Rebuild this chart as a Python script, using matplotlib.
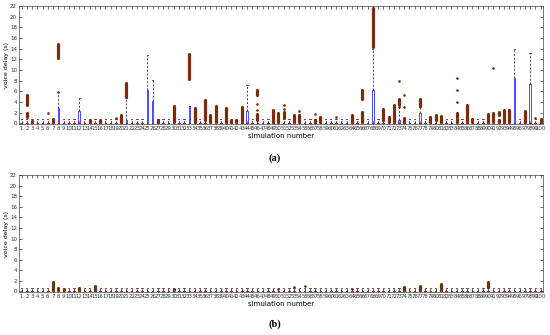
import numpy as np
import matplotlib.pyplot as plt

# ---------------- data ----------------
SIMS = list(range(1, 101))
Y_TICKS = list(range(0, 23, 2))

# panel (a): box top (q3) and upper whisker for the long boxes, default tiny
A_Q3 = {8: 2.8, 12: 2.2, 21: 0.6, 25: 6.3, 26: 4.1, 33: 3.2, 44: 2.2,
        68: 6.2, 73: 0.5, 77: 2.0, 95: 8.4, 98: 7.4}
A_WHISK = {8: 5.8, 12: 4.7, 21: 4.8, 25: 12.8, 26: 8.1, 33: 3.2, 44: 7.2,
           68: 14.0, 73: 3.0, 77: 3.0, 95: 14.0, 98: 13.1}
# dense outlier stacks (low, high)
A_CLUSTERS = {
    2: [(1.2, 2.0), (3.5, 5.2)], 3: [(0.2, 0.4)], 7: [(0.2, 0.8)],
    8: [(12.3, 14.8)], 14: [(0.2, 0.6)], 16: [(0.2, 0.6)], 17: [(0.2, 0.3)],
    20: [(0.2, 1.5)], 21: [(5.0, 7.5)], 27: [(0.2, 0.5)], 30: [(0.2, 3.2)],
    33: [(8.3, 12.9)], 34: [(0.2, 2.8)], 36: [(0.5, 4.3)], 37: [(0.2, 1.6)],
    38: [(0.2, 3.2)], 40: [(0.2, 2.8)], 41: [(0.2, 0.6)], 42: [(0.2, 0.5)],
    43: [(0.2, 3.0)], 46: [(5.2, 6.3), (0.6, 1.8)], 49: [(0.2, 2.4)],
    50: [(0.2, 1.9)], 51: [(0.9, 2.1)], 53: [(0.2, 1.5)], 54: [(0.2, 1.5)],
    57: [(0.2, 0.6)], 58: [(0.2, 1.2)], 64: [(0.2, 1.5)],
    66: [(4.6, 6.2), (0.2, 2.1)], 68: [(14.3, 21.7)], 70: [(0.6, 2.6)],
    71: [(0.2, 1.2)], 72: [(0.2, 3.4)], 73: [(3.4, 4.6)], 74: [(0.2, 0.9)],
    77: [(3.2, 4.6)], 79: [(0.2, 1.2)], 80: [(0.5, 1.5)], 81: [(0.2, 1.4)],
    84: [(1.2, 1.9), (0.2, 0.7)], 86: [(0.2, 3.4)], 87: [(0.2, 0.8)],
    90: [(0.2, 1.8)], 91: [(1.1, 1.9), (0.2, 0.7)], 92: [(1.5, 2.1), (0.2, 0.6)],
    93: [(0.2, 2.5)], 94: [(0.2, 2.4)], 97: [(0.2, 2.2)], 100: [(0.2, 0.7)],
}
# isolated outliers
A_POINTS = {6: [1.9], 8: [5.8], 19: [1.0], 46: [3.6, 2.5], 51: [2.7, 3.4],
            54: [2.2], 57: [1.8], 61: [1.1], 73: [7.9], 74: [5.3, 3.1],
            84: [8.5, 6.2, 4.0], 91: [10.3], 99: [0.9]}

# panel (b)
B_CLUSTERS = {7: [(0.3, 1.8)], 8: [(0.2, 0.7)], 9: [(0.2, 0.4)],
              12: [(0.2, 0.6)], 15: [(0.3, 1.1)], 18: [(0.2, 0.3)],
              23: [(0.2, 0.3)], 30: [(0.2, 0.4)], 40: [(0.2, 0.3)],
              74: [(0.1, 0.9)], 77: [(0.2, 1.0)], 81: [(0.2, 1.3)],
              90: [(0.8, 1.8)], 92: [(0.2, 0.3)], 95: [(0.2, 0.3)]}
B_POINTS = {50: [0.5], 53: [0.9], 55: [1.1], 64: [0.5]}

DEFAULT_Q3 = 0.1
DEFAULT_WHISK = 0.7


def draw_panel(ax, q3s, whisks, clusters, points, stack_color):
    stats = []
    for s in SIMS:
        q3 = q3s.get(s, DEFAULT_Q3)
        stats.append(dict(med=0.03, q1=0.0, q3=q3, whislo=0.0,
                          whishi=whisks.get(s, DEFAULT_WHISK), fliers=[]))
    ax.bxp(stats, positions=SIMS, widths=0.3, showfliers=False,
           boxprops=dict(color="#4a4aff", linewidth=0.7),
           whiskerprops=dict(color="#333333", linewidth=0.6, linestyle=(0, (2.5, 2))),
           capprops=dict(color="#333333", linewidth=0.6),
           medianprops=dict(color="#e02020", linewidth=0.8),
           capwidths=0.25, manage_ticks=False)

    for s, spans in clusters.items():
        for lo, hi in spans:
            ax.vlines(s, lo, hi, colors=stack_color, linewidth=2.3,
                      capstyle="round")
    for s, vals in points.items():
        ax.plot([s] * len(vals), vals, "o", color=stack_color,
                markersize=1.9, markeredgewidth=0)

    ax.set_xlim(0.5, 100.5)
    ax.set_ylim(-0.15, 22)
    ax.set_xticks(SIMS)
    ax.set_xticklabels([str(s) for s in SIMS], fontsize=3.9)
    ax.set_yticks(Y_TICKS)
    ax.set_yticklabels([str(v) for v in Y_TICKS], fontsize=4.0)
    ax.tick_params(direction="in", length=2.5, width=0.5, top=True,
                   right=True, pad=1.5, colors="#333333")
    ax.set_xlabel("simulation number", fontsize=5, labelpad=1.5)
    ax.set_ylabel("voice delay (s)", fontsize=4.5, labelpad=1)
    for sp in ax.spines.values():
        sp.set_linewidth(0.5)
        sp.set_color("#444444")


fig = plt.figure(figsize=(5.5, 3.35), dpi=100)
ax_a = fig.add_axes([0.0345, 0.630, 0.953, 0.352])
ax_b = fig.add_axes([0.0345, 0.128, 0.953, 0.349])

draw_panel(ax_a, A_Q3, A_WHISK, A_CLUSTERS, A_POINTS, "#7a2c0e")
draw_panel(ax_b, {}, {}, B_CLUSTERS, B_POINTS, "#5e3c0c")

fig.text(0.5, 1 - 158 / 335, "(a)", ha="center", va="center",
         fontsize=7.5, fontweight="bold", family="Liberation Serif")
fig.text(0.5, 1 - 324 / 335, "(b)", ha="center", va="center",
         fontsize=7.5, fontweight="bold", family="Liberation Serif")

fig.savefig("out.png", dpi=100)
